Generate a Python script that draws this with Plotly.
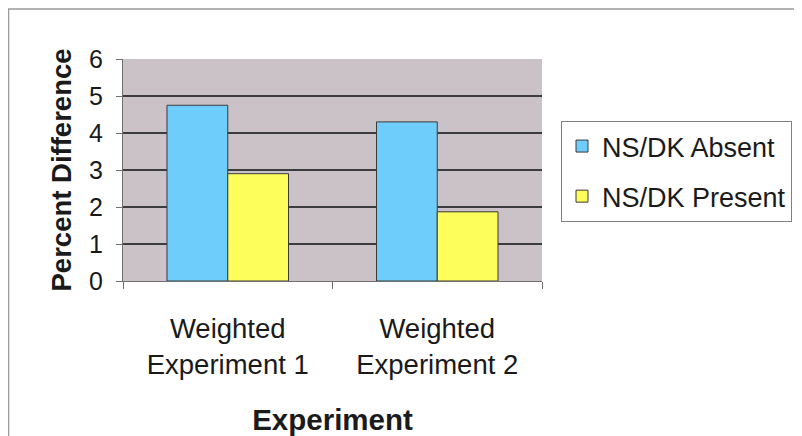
import plotly.graph_objects as go

categories = ["Weighted<br>Experiment 1", "Weighted<br>Experiment 2"]
ns_dk_absent = [4.75, 4.3]
ns_dk_present = [2.9, 1.87]
series_names = ["NS/DK Absent", "NS/DK Present"]
y_ticks = [0, 1, 2, 3, 4, 5, 6]

FONT = "Arial"

# page body adds an 8px offset; figure coordinates below are screen - 8
L, R, T, B = 115, 534, 51, 273
W, H = 794, 428
pw, ph = R - L, B - T

fig = go.Figure()
fig.add_trace(go.Bar(x=categories, y=ns_dk_absent, name=series_names[0],
                     marker=dict(color="#6fcdfb", line=dict(color="#3a3a3a", width=1)),
                     legendgroup="a"))
fig.add_trace(go.Bar(x=categories, y=ns_dk_present, name=series_names[1],
                     marker=dict(color="#fdfd5c", line=dict(color="#3a3a3a", width=1)),
                     legendgroup="b"))

fig.update_layout(
    width=W, height=H,
    margin=dict(l=L, r=W - R, t=T, b=H - B, autoexpand=False),
    paper_bgcolor="white",
    plot_bgcolor="#cbc2c7",
    barmode="group",
    bargap=0.42,
    bargroupgap=0,
    font=dict(family=FONT, color="#1a1a1a"),
    showlegend=True,
    legend=dict(
        x=(553 - L) / pw, y=(B - 113) / ph, xanchor="left", yanchor="top",
        bordercolor="#808080", borderwidth=1,
        bgcolor="white",
        font=dict(size=27, family=FONT, color="#1a1a1a"),
        traceorder="grouped",
        tracegroupgap=12,
        itemwidth=30,
    ),
    xaxis=dict(
        type="category",
        automargin=False,
        showline=True, linecolor="#707070", linewidth=1,
        ticks="outside", ticklen=7, tickcolor="#707070",
        tickson="boundaries",
        ticklabelstandoff=23,
        tickfont=dict(size=27.5, family=FONT, color="#1a1a1a"),
        title=dict(text="<b>Experiment</b>", font=dict(size=29.5, family=FONT, color="#1a1a1a"), standoff=34),
        showgrid=False,
    ),
    yaxis=dict(
        range=[0, 6],
        tickvals=y_ticks,
        automargin=False,
        showline=True, linecolor="#707070", linewidth=1,
        ticks="outside", ticklen=6, tickcolor="#707070",
        ticklabelstandoff=8,
        tickfont=dict(size=25, family=FONT, color="#1a1a1a"),
        showgrid=True, gridcolor="#3c3c3c", gridwidth=1.5,
        zeroline=False,
        title=dict(text="<b>Percent Difference</b>", font=dict(size=27.5, family=FONT, color="#1a1a1a"), standoff=9),
    ),
    shapes=[
        dict(type="rect", xref="paper", yref="paper",
             x0=(0.5 - L) / pw, x1=(W + 30 - L) / pw,
             y0=-(H + 30 - B) / ph, y1=(B - 1) / ph,
             line=dict(color="#9a9a9a", width=1.5), fillcolor="rgba(0,0,0,0)", layer="below"),
    ],
)

fig.write_html("out.html")
